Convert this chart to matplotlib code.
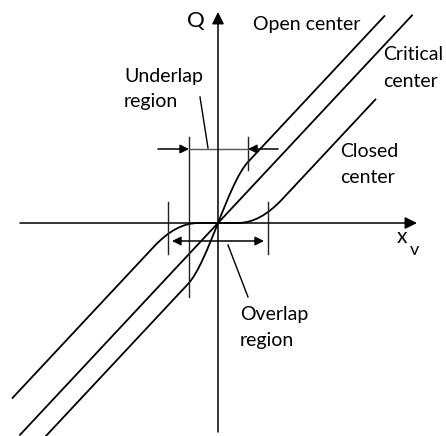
import matplotlib
matplotlib.use("Agg")
import matplotlib.pyplot as plt
from matplotlib.path import Path
from matplotlib.patches import PathPatch

# ─────────────────────────────────────────────
# Schematic values (x_v and Q share one unit, roughly one pixel)
# ─────────────────────────────────────────────
gain = 1.07                      # slope dQ/dx_v away from null

critical_x = [-198, 194]         # start / end of the critical-center line

open_x = [-173, 167]
underlap = 30                    # half-width of the underlap region
open_shift = 27                  # horizontal offset of the open-center asymptotes

closed_x = [-206, 158]
deadband = 20                    # flat part of the closed-center curve
closed_shift = 42                # horizontal offset of the closed-center asymptotes
overlap = 50                     # half-width of the overlap region

axis_x = [-198, 199]
axis_q = [-209, 211]

labels = {
    "open": ["Open center"],
    "critical": ["Critical", "center"],
    "closed": ["Closed", "center"],
    "underlap": ["Underlap", "region"],
    "overlap": ["Overlap", "region"],
}

plt.rcParams["font.family"] = ["Lato", "DejaVu Sans"]

fig = plt.figure(figsize=(4.46, 4.36), dpi=100)
ax = fig.add_axes([0, 0, 1, 1])
ax.set_xlim(-218, 228)
ax.set_ylim(-213, 223)
ax.axis("off")

LW = 1.3


def arrow(x0, y0, x1, y1, scale=16, style="-|>", lw=1.1, color="black"):
    ax.annotate("", xy=(x1, y1), xytext=(x0, y0),
                arrowprops=dict(arrowstyle=style, color=color, lw=lw,
                                mutation_scale=scale, shrinkA=0, shrinkB=0))


# ── Axes ─────────────────────────────────────
arrow(axis_x[0], 0, axis_x[1], 0, scale=18)
arrow(0, axis_q[0], 0, axis_q[1], scale=18)

# ── Critical center: straight line through the origin ──
ax.plot(critical_x, [gain * x for x in critical_x], color="black", lw=LW)

# ── Open center: steep cubic through the origin, then parallel lines ──
u, d = underlap, open_shift
qe = gain * (u + d)
open_verts = [
    (open_x[0], gain * (open_x[0] - d)),
    (-u, -qe),
    (-u / 3, -qe + gain * 2 * u / 3),
    (u / 3, qe - gain * 2 * u / 3),
    (u, qe),
    (open_x[1], gain * (open_x[1] + d)),
]
open_codes = [Path.MOVETO, Path.LINETO, Path.CURVE4, Path.CURVE4,
              Path.CURVE4, Path.LINETO]
ax.add_patch(PathPatch(Path(open_verts, open_codes), fill=False,
                       lw=LW, edgecolor="black"))

# ── Closed center: dead band, quadratic blend, parallel lines ──
a, c = deadband, closed_shift
b = 2 * c - a
qb = gain * (b - c)
closed_verts = [
    (closed_x[0], gain * (closed_x[0] + c)),
    (-b, -qb),
    (-c, 0),
    (-a, 0),
    (a, 0),
    (c, 0),
    (b, qb),
    (closed_x[1], gain * (closed_x[1] - c)),
]
closed_codes = [Path.MOVETO, Path.LINETO, Path.CURVE3, Path.CURVE3,
                Path.LINETO, Path.CURVE3, Path.CURVE3, Path.LINETO]
ax.add_patch(PathPatch(Path(closed_verts, closed_codes), fill=False,
                       lw=LW, edgecolor="black"))

# ── Underlap dimension ──
dim_kw = dict(color="#222222", lw=1.0)
ax.plot([-u + 1, -u + 1], [86, -74], **dim_kw)
ax.plot([u, u], [86, 53], **dim_kw)
ax.plot([-u + 1, u], [74, 74], color="#555555", lw=1.0)
arrow(-60, 74, -u + 1, 74, scale=13)
arrow(60, 74, u, 74, scale=13)
ax.plot([-18, -10], [126, 75], color="black", lw=1.0)

# ── Overlap dimension ──
ax.plot([-overlap, -overlap], [21, -31], **dim_kw)
ax.plot([overlap, overlap], [21, -31], **dim_kw)
arrow(0, -18, -overlap + 4, -18, scale=13)
arrow(0, -18, overlap - 4, -18, scale=13)
ax.plot([10, 30], [-22, -74], color="black", lw=1.0)


# ── Text ─────────────────────────────────────
def label(lines, x, y0, step=26, size=14):
    for i, s in enumerate(lines):
        ax.text(x, y0 - i * step, s, fontsize=size, ha="left", va="baseline")


label(labels["open"], 35, 193)
label(labels["critical"], 165, 163, step=27)
label(labels["closed"], 122, 66)
label(labels["underlap"], -94, 141, step=25)
label(labels["overlap"], 22, -97)

ax.text(-31, 196, "Q", fontsize=16, ha="left", va="baseline")
ax.text(179, -20, "x", fontsize=15, ha="left", va="baseline")
ax.text(192, -32, "v", fontsize=13, ha="left", va="baseline")

fig.savefig("out.png", dpi=100)
